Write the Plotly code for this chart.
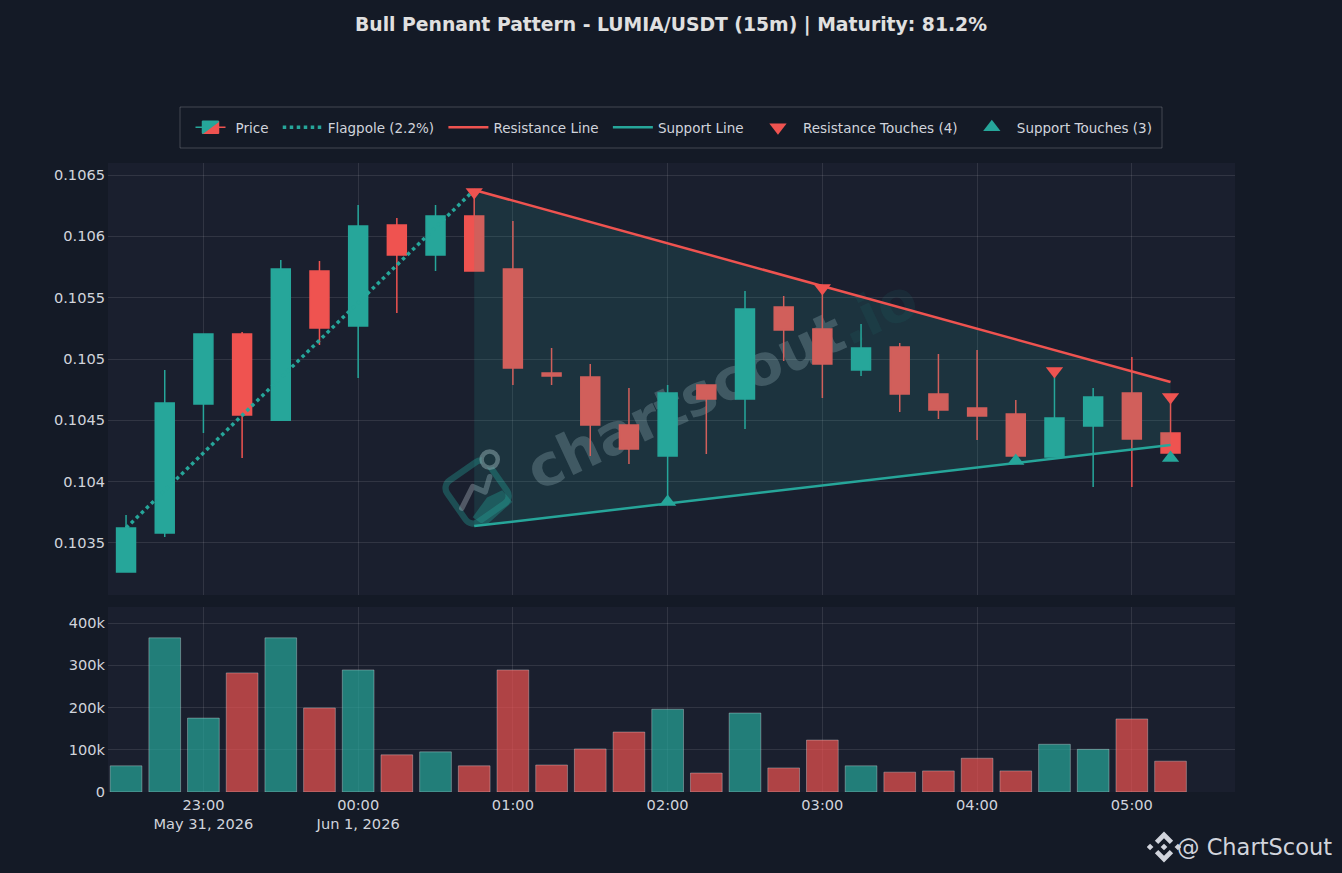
import base64

import pandas as pd
import plotly.graph_objects as go
from plotly.subplots import make_subplots

TEAL = "#26a69a"
RED = "#ef5350"
TEXT = "#d1d4dc"
FONT = "DejaVu Sans"

times = pd.date_range("2026-05-31 22:30", periods=28, freq="15min")

opens = [0.103263, 0.103581, 0.104633, 0.105204, 0.104500, 0.105717, 0.105269, 0.106092, 0.105848, 0.106166,
         0.105734, 0.104886, 0.104853, 0.104462, 0.104209, 0.104788, 0.104674, 0.105424, 0.105244, 0.104910,
         0.105098, 0.104714, 0.104600, 0.104551, 0.104201, 0.104454, 0.104723, 0.104397]
highs = [0.103728, 0.104910, 0.105210, 0.105220, 0.105807, 0.105799, 0.106255, 0.106149, 0.106255, 0.106378,
         0.106125, 0.105090, 0.104959, 0.104763, 0.104788, 0.104788, 0.105554, 0.105513, 0.105579, 0.105285,
         0.105130, 0.105041, 0.105073, 0.104666, 0.104894, 0.104763, 0.105016, 0.104690]
lows = [0.103263, 0.103549, 0.104397, 0.104193, 0.104500, 0.105114, 0.104845, 0.105375, 0.105717, 0.105717,
        0.104788, 0.104788, 0.104209, 0.104144, 0.103810, 0.104225, 0.104429, 0.104984, 0.104682, 0.104861,
        0.104568, 0.104511, 0.104340, 0.104209, 0.104201, 0.103956, 0.103956, 0.104233]
closes = [0.103622, 0.104641, 0.105204, 0.104543, 0.105734, 0.105253, 0.106084, 0.105848, 0.106166, 0.105717,
          0.104926, 0.104861, 0.104462, 0.104266, 0.104723, 0.104674, 0.105407, 0.105236, 0.104959, 0.105090,
          0.104714, 0.104584, 0.104535, 0.104209, 0.104519, 0.104690, 0.104348, 0.104233]
volumes = [62000, 365000, 175000, 282000, 365000, 199000, 289000, 88000, 95000, 62000,
           289000, 64000, 102000, 142000, 196000, 45000, 187000, 57000, 123000, 62000,
           47000, 50000, 80000, 50000, 113000, 101000, 173000, 73000]

flag_x = ["2026-05-31 22:30", "2026-06-01 00:45"]
flag_y = [0.103622, 0.106378]
res_x = ["2026-06-01 00:45", "2026-06-01 05:15"]
res_y = [0.106378, 0.104812]
sup_y = [0.103638, 0.104299]

res_touch_x = ["2026-06-01 00:45", "2026-06-01 03:00", "2026-06-01 04:30", "2026-06-01 05:15"]
res_touch_y = [0.106361, 0.105579, 0.104902, 0.104690]
sup_touch_x = ["2026-06-01 02:00", "2026-06-01 04:15", "2026-06-01 05:15"]
sup_touch_y = [0.103834, 0.104168, 0.104193]

GAP = "\u00a0"  # widens the legend spacing a touch


def svg_uri(svg):
    return "data:image/svg+xml;base64," + base64.b64encode(svg.encode()).decode()


def px_x(px):
    return (px - 108) / 1127


def px_y(px):
    return (792 - px) / 629


# watermark logo, rounded square with a little chart inside
watermark_svg = """<svg xmlns="http://www.w3.org/2000/svg" viewBox="0 0 100 100">
<g fill="none" stroke-linecap="round" stroke-linejoin="round">
<rect x="21" y="22" width="56" height="56" rx="10" transform="rotate(-35 49 50)" stroke="#26a69a" stroke-opacity="0.35" stroke-width="7"/>
<path d="M44 78 L60 56 L77 48 L88 61 L58 88 Z" fill="#26a69a" fill-opacity="0.35" stroke="none"/>
<path d="M32 68 L44 44 L58 50 L63 33" stroke="#a5b0b8" stroke-opacity="0.4" stroke-width="6"/>
<circle cx="63" cy="14" r="9" fill="#1a2330" stroke="#a5b0b8" stroke-opacity="0.5" stroke-width="5"/>
</g></svg>"""

# exchange diamond next to the footer text
diamond_svg = """<svg xmlns="http://www.w3.org/2000/svg" viewBox="0 0 100 100">
<g fill="#d1d4dc" transform="rotate(45 50 50)">
<path d="M18 18 H56 V32 H32 V56 H18 Z"/>
<path d="M82 82 H44 V68 H68 V44 H82 Z"/>
<rect x="43" y="43" width="14" height="14"/>
<rect x="14" y="72" width="14" height="14"/>
<rect x="72" y="14" width="14" height="14"/>
</g></svg>"""

fig = make_subplots(rows=2, cols=1, shared_xaxes=True)

fig.add_trace(go.Candlestick(x=times, open=opens, high=highs, low=lows, close=closes, name="Price" + GAP,
                             increasing=dict(line=dict(color=TEAL, width=1.5), fillcolor=TEAL),
                             decreasing=dict(line=dict(color=RED, width=1.5), fillcolor=RED)), row=1, col=1)

# pennant area, has to sit above the candles
fig.add_trace(go.Scatter(x=res_x + res_x[::-1], y=res_y + sup_y[::-1], mode="lines", fill="toself",
                         fillcolor="rgba(38,166,154,0.15)", line=dict(width=0),
                         showlegend=False, hoverinfo="skip"), row=1, col=1)
fig.add_trace(go.Scatter(x=flag_x, y=flag_y, mode="lines", name="Flagpole (2.2%)" + GAP,
                         line=dict(color=TEAL, width=3.5, dash="dot")), row=1, col=1)
fig.add_trace(go.Scatter(x=res_x, y=res_y, mode="lines", name="Resistance Line" + GAP,
                         line=dict(color=RED, width=2.5)), row=1, col=1)
fig.add_trace(go.Scatter(x=res_x, y=sup_y, mode="lines", name="Support Line" + GAP,
                         line=dict(color=TEAL, width=2.5)), row=1, col=1)
fig.add_trace(go.Scatter(x=res_touch_x, y=res_touch_y, mode="markers", name="Resistance Touches (4)" + GAP,
                         marker=dict(symbol="triangle-down", size=15, color=RED)), row=1, col=1)
fig.add_trace(go.Scatter(x=sup_touch_x, y=sup_touch_y, mode="markers", name="Support Touches (3)",
                         marker=dict(symbol="triangle-up", size=15, color=TEAL)), row=1, col=1)

vol_colors = ["rgba(38,166,154,0.7)" if c >= o else "rgba(239,83,80,0.7)" for o, c in zip(opens, closes)]
fig.add_trace(go.Bar(x=times, y=volumes, marker=dict(color=vol_colors, line=dict(color="rgba(255,255,255,0.3)", width=1)),
                     width=0.82 * 15 * 60 * 1000, showlegend=False), row=2, col=1)

fig.update_layout(
    width=1342, height=873,
    paper_bgcolor="#141a26", plot_bgcolor="#1a1f2e",
    font=dict(family=FONT, color=TEXT, size=14),
    title=dict(text="<b>Bull Pennant Pattern - LUMIA/USDT (15m) | Maturity: 81.2%</b>", x=0.5, xanchor="center",
               y=0.972, yanchor="middle", font=dict(size=18.8, color="#e0e0e0", family=FONT)),
    margin=dict(l=108, r=107, t=163, b=81),
    legend=dict(orientation="h", x=0.5, xanchor="center", y=px_y(127.5), yanchor="middle", itemwidth=40,
                bgcolor="rgba(0,0,0,0)", borderwidth=0, font=dict(size=13.5, color=TEXT)),
    bargap=0.18,
    shapes=[
        dict(type="rect", xref="paper", yref="paper", x0=px_x(180), x1=px_x(1162), y0=px_y(107), y1=px_y(148),
             line=dict(color="rgba(255,255,255,0.2)", width=1)),
        # watermark sits under the candles, so it goes on a shape label and not an annotation
        dict(type="rect", xref="paper", yref="paper", x0=px_x(620), x1=px_x(820), y0=px_y(360), y1=px_y(400),
             layer="below", line=dict(width=0), fillcolor="rgba(0,0,0,0)",
             label=dict(text="<b>chartscout<span style='color:rgba(38,166,154,0.3)'>.io</span></b>",
                        textposition="middle center", textangle=-25,
                        font=dict(size=57, color="rgba(190,200,210,0.27)", family=FONT))),
    ],
    images=[
        dict(source=svg_uri(watermark_svg), xref="paper", yref="paper", x=px_x(433), y=px_y(447),
             sizex=90 / 1127, sizey=90 / 629, xanchor="left", yanchor="top", layer="below"),
        dict(source=svg_uri(diamond_svg), xref="paper", yref="paper", x=px_x(1147), y=px_y(830),
             sizex=34 / 1127, sizey=34 / 629, xanchor="left", yanchor="top", layer="above"),
    ],
    annotations=[
        dict(text="@ ChartScout", xref="paper", yref="paper", x=px_x(1334), y=px_y(847),
             xanchor="right", yanchor="middle", showarrow=False, font=dict(size=22.5, color=TEXT, family=FONT)),
    ],
)

grid = "rgba(255,255,255,0.1)"
fig.update_xaxes(range=["2026-05-31 22:23", "2026-06-01 05:40"], dtick=3600000, showgrid=True, gridcolor=grid,
                 zeroline=False, showline=False, rangeslider=dict(visible=False), ticklabelstandoff=2,
                 tickfont=dict(size=14.6, color=TEXT))
fig.update_yaxes(showgrid=True, gridcolor=grid, zeroline=False, showline=False, ticklabelstandoff=2,
                 tickfont=dict(size=14.6, color=TEXT))
fig.update_layout(yaxis=dict(domain=[197 / 629, 1], range=[0.103076, 0.106598], dtick=0.0005),
                  yaxis2=dict(domain=[0, 185 / 629], range=[0, 438000], dtick=100000),
                  xaxis=dict(domain=[0, 1]), xaxis2=dict(domain=[0, 1]))

# the browser's default body margin would push the chart 8px off
fig.write_html("out.html", config=dict(displayModeBar=False), post_script="document.body.style.margin='0';")
